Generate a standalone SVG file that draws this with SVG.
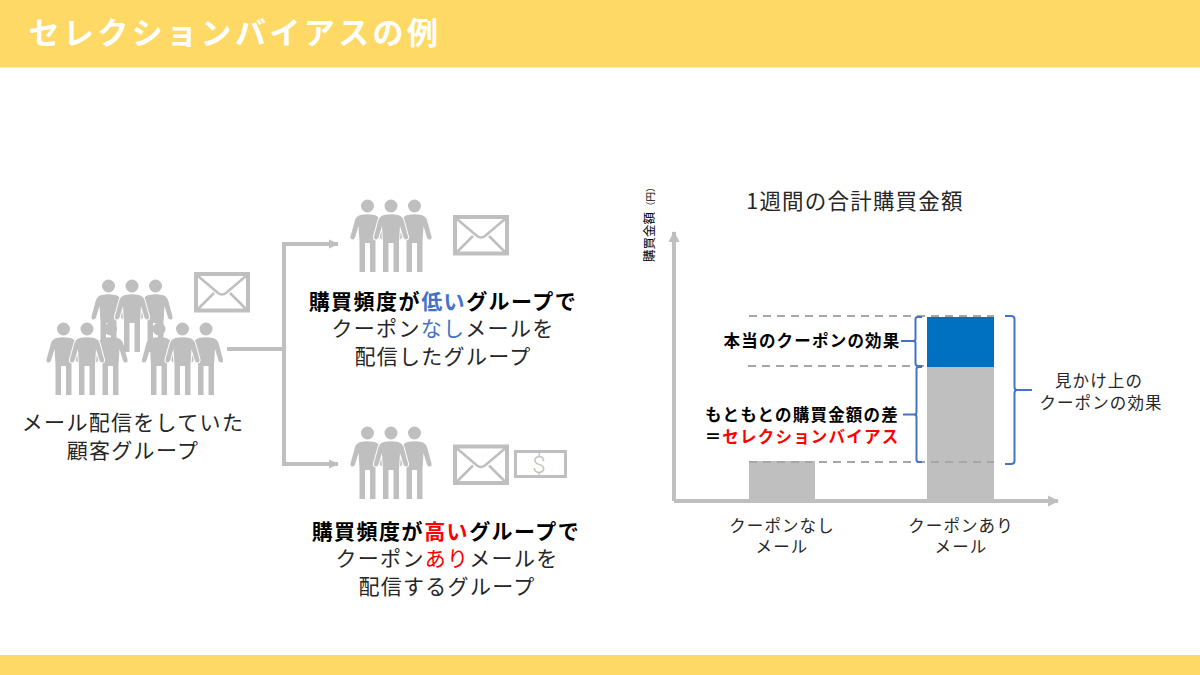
<svg xmlns="http://www.w3.org/2000/svg" width="1200" height="675" viewBox="0 0 1200 675">
<style>
text{font-family:"Noto Sans CJK JP","Noto Sans",sans-serif;fill:#262626;text-anchor:middle}
.t{font-size:21px;letter-spacing:1.3px}
.tb{font-size:21px;font-weight:700;letter-spacing:1.5px;fill:#000}
.c{font-size:16.500px;letter-spacing:1.1px}
.cb{font-size:16.500px;font-weight:700;letter-spacing:1.2px;fill:#000}
.conn{fill:none;stroke:#bfbfbf;stroke-width:4}
.dash{fill:none;stroke:#a6a6a6;stroke-width:2;stroke-dasharray:8 6}
.br{fill:none;stroke:#4472c4;stroke-width:2}
.env{fill:none;stroke:#bfbfbf}
</style>
<defs>
<path id="figure" d="M0,-6.500A6.500,6.500 0 1 1 0,6.500A6.500,6.500 0 1 1 0,-6.500ZM-7,9Q0,7.500 7,9Q11,10 12.500,14L17,30.500Q17.500,33 15.500,33.500Q13.500,34 12.500,31.500L9,20L8,36V66H2.500V37H-2.500V66H-8V36L-9,20L-12.500,31.500Q-13.500,34 -15.500,33.500Q-17.500,33 -17,30.500L-12.500,14Q-11,10 -7,9Z"/>
<g id="person"><use href="#figure" fill="#bfbfbf"/></g>
<g id="personf"><use href="#figure" fill="#bfbfbf" stroke="#fff" stroke-width="2" paint-order="stroke"/></g>
<g id="trio">
<use href="#person" x="-23.500"/><use href="#person" x="23.500"/><use href="#personf"/>
</g>
<g id="envelope">
<rect x="2" y="2" width="52" height="36.500" class="env" stroke-width="4"/>
<path d="M4,4L24,21Q28,24 32,21L52,4M4,37L20,21M52,37L36,21" class="env" stroke-width="2.500"/>
</g>
<marker id="arrow" markerUnits="userSpaceOnUse" markerWidth="12" markerHeight="12" refX="9" refY="6" orient="auto"><path d="M0,1.500L10,6L0,10.500Z" fill="#bfbfbf"/></marker>
<marker id="arrowb" markerUnits="userSpaceOnUse" markerWidth="14" markerHeight="14" refX="10" refY="7" orient="auto"><path d="M0,1.500L11,7L0,12.500Z" fill="#bfbfbf"/></marker>
</defs>

<g id="header"><rect width="1200" height="67.500" fill="#ffd966"/><text x="235" y="44" font-size="31" font-weight="700" letter-spacing="3.400" style="fill:#fff">セレクションバイアスの例</text></g>
<g id="footer"><rect y="655" width="1200" height="20" fill="#ffd966"/></g>

<g id="connectors">
<path class="conn" d="M227,349H284"/>
<path class="conn" d="M284,349V244H338" marker-end="url(#arrow)"/>
<path class="conn" d="M284,349V464H338" marker-end="url(#arrow)"/>
</g>

<g id="source-group">
<use href="#person" x="108.500" y="286"/><use href="#person" x="155.500" y="286"/><use href="#personf" x="132" y="286"/>
<use href="#trio" x="87" y="329"/>
<use href="#trio" x="182.500" y="329"/>
<use href="#envelope" x="194" y="272"/>
<text class="t" x="133" y="430">メール配信をしていた</text>
<text class="t" x="133" y="458">顧客グループ</text>
</g>

<g id="low-group">
<use href="#trio" x="391" y="206"/>
<use href="#envelope" x="453" y="215"/>
<text class="tb" x="443" y="309">購買頻度が<tspan style="fill:#4472c4">低い</tspan>グループで</text>
<text class="t" x="443" y="336">クーポン<tspan style="fill:#4472c4">なし</tspan>メールを</text>
<text class="t" x="443" y="364">配信したグループ</text>
</g>

<g id="high-group">
<use href="#trio" x="391" y="433"/>
<use href="#envelope" x="453" y="444.500"/>
<g id="bill"><rect x="515.500" y="451.500" width="50" height="25" class="env" stroke-width="3"/><text x="539" y="472.500" font-size="24" font-weight="300" style="fill:#bfbfbf;font-family:Roboto,sans-serif">$</text></g>
<text class="tb" x="446" y="539">購買頻度が<tspan style="fill:#ff0000">高い</tspan>グループで</text>
<text class="t" x="447" y="566">クーポン<tspan style="fill:#ff0000">あり</tspan>メールを</text>
<text class="t" x="447" y="594">配信するグループ</text>
</g>

<g id="chart">
<text x="855" y="209" font-size="21.500" letter-spacing="1.200">1週間の合計購買金額</text>
<text transform="translate(654,262) rotate(-90)" style="text-anchor:start;fill:#000" font-size="12.500">購買金額<tspan font-size="9.500" dx="1">（円）</tspan></text>
<rect id="bar-none" x="749" y="461" width="66" height="39" fill="#bfbfbf"/>
<rect id="bar-with" x="927" y="367" width="67" height="133" fill="#bfbfbf"/>
<rect id="bar-effect" x="927" y="317" width="67" height="50" fill="#0070c0"/>
<path class="conn" d="M674,501V232" marker-end="url(#arrowb)"/>
<path class="conn" d="M674,501H1058" marker-end="url(#arrowb)"/>
<path class="dash" d="M749,316H994"/>
<path class="dash" d="M748,366H927"/>
<path class="dash" d="M749,462H994"/>
<path class="br" d="M922,317H918Q915.500,317 915.500,319V339Q915.500,341 913,341H901M913,341Q915.500,341 915.500,343V363Q915.500,366 918,366H922"/>
<path class="br" d="M922,367H919Q916.500,367 916.500,369V412Q916.500,414.500 914,414.500H903M914,414.500Q916.500,414.500 916.500,417V460Q916.500,462 919,462H922"/>
<path class="br" d="M1005,316H1011Q1014.500,316 1014.500,319V387Q1014.500,390 1017,390H1032M1017,390Q1014.500,390 1014.500,393V461Q1014.500,464 1011,464H1005"/>
<text class="cb" x="812" y="347">本当のクーポンの効果</text>
<text class="cb" x="802" y="421">もともとの購買金額の差</text>
<text class="cb" x="802" y="443">＝<tspan style="fill:#ff0000">セレクションバイアス</tspan></text>
<text class="c" x="1099" y="387">見かけ上の</text>
<text class="c" x="1101" y="409">クーポンの効果</text>
<text class="c" x="782" y="532">クーポンなし</text>
<text class="c" x="782" y="553">メール</text>
<text class="c" x="961" y="532">クーポンあり</text>
<text class="c" x="961" y="553">メール</text>
</g>
</svg>
